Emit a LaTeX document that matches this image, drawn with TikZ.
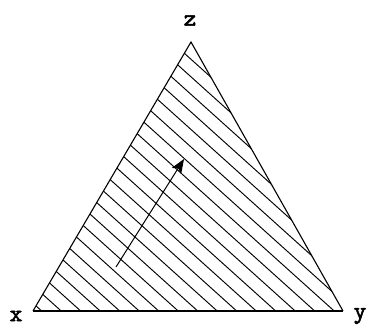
\documentclass[tikz,border=0pt]{standalone}
\usepackage{fontspec}
\newfontfamily\labelfont{lmmono10-regular.otf}[FakeBold=2.5]
\usetikzlibrary{arrows.meta}
\tikzset{
  hatchline/.style = {black,line width=0.95pt},
  edgeline/.style  = {black,line width=1.1pt,line join=miter},
  basearr/.style   = {black,line width=1.8pt},
  motionarr/.style = {-{Stealth[length=14pt,width=11pt,inset=3pt]},line width=1pt},
  vertlbl/.style   = {font=\labelfont\fontsize{24}{24}\selectfont,inner sep=0pt}
}
\begin{document}
\begin{tikzpicture}[x=1pt,y=1pt]
  \useasboundingbox (0,0) rectangle (368,327);
  % --- corners of the simplex
  \coordinate (X) at (33,16);
  \coordinate (Y) at (343,16);
  \coordinate (Z) at (191,285);
  % --- hatching, clipped to the triangle
  \begin{scope}
    \clip (X) -- (Y) -- (Z) -- cycle;
    \foreach \k in {0,...,24} {
      \draw[hatchline] ({41.7+19.5*\k-320},{16+288}) -- ({41.7+19.5*\k+40},{16-36});
    }
  \end{scope}
  % --- outline
  \draw[edgeline] (Y) -- (Z) -- (X);
  \draw[basearr] (X) -- (Y);
  % --- labels
  \node[vertlbl] (lx) at (16,11)  {x};
  \node[vertlbl] (ly) at (360,11) {y};
  \node[vertlbl] (lz) at (190,306.5) {z};
  % --- the direction of motion
  \coordinate (tail) at (116,60);
  \coordinate (head) at (184,168);
  \draw[motionarr] (tail) -- (head);
\end{tikzpicture}
\end{document}
